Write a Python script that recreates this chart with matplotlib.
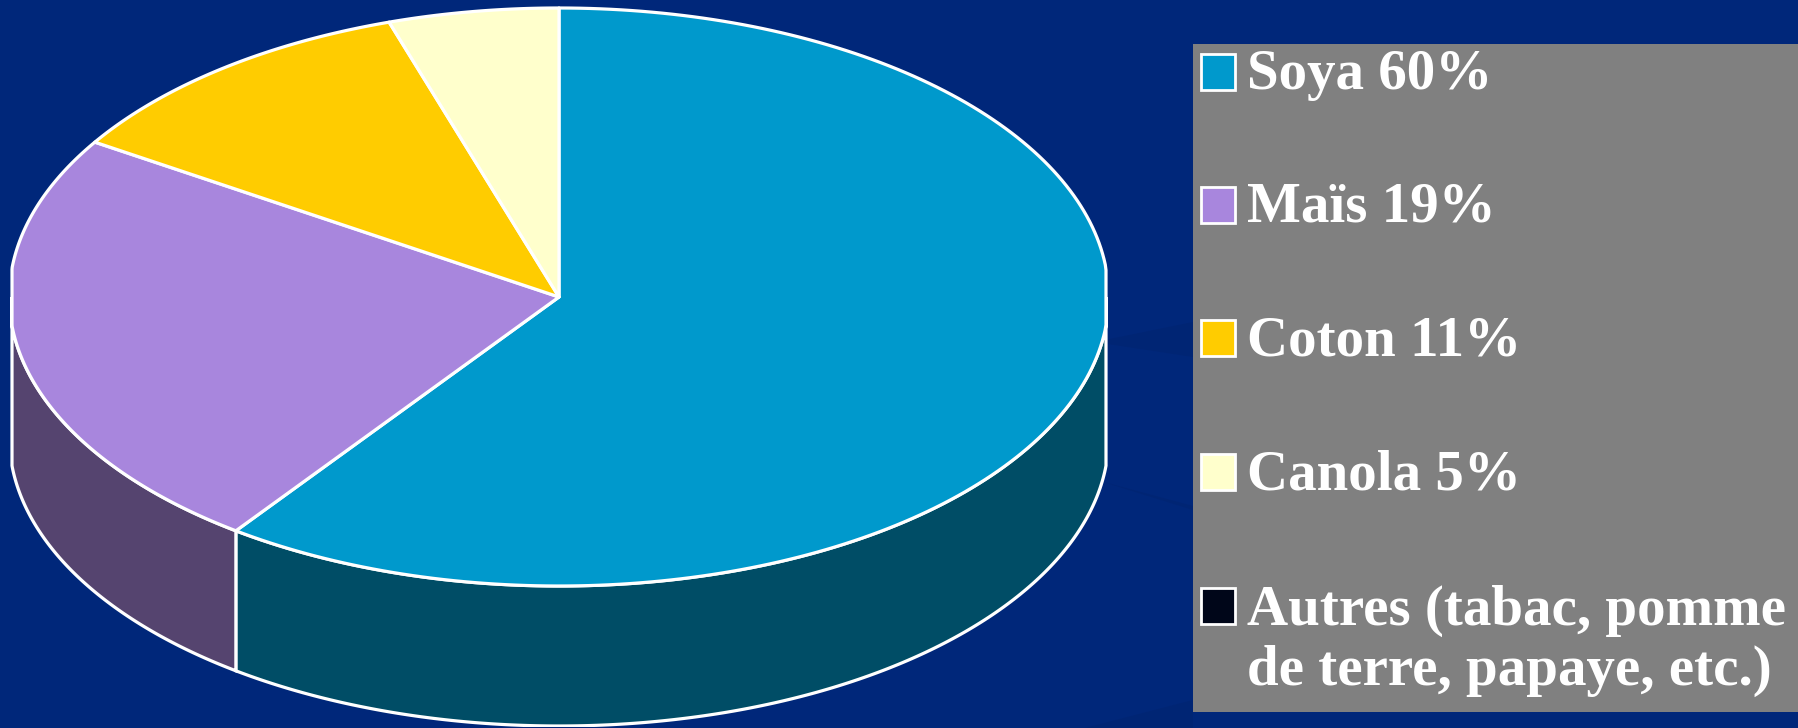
import numpy as np
import matplotlib
matplotlib.use("Agg")
import matplotlib.pyplot as plt
from matplotlib.patches import Rectangle, Polygon

# Slice shares as drawn on the pie (the Maïs slice is wider than its 19% text)
crops = ['Soya', 'Maïs', 'Coton', 'Canola']
shares = [60, 24, 11, 5]
top_colors = ['#0099CC', '#A886DD', '#FFCC00', '#FFFFCC']
side_colors = ['#004D66', '#55446F', '#806600', '#808066']

# Legend
legend_lines = ['Soya 60%', 'Maïs 19%', 'Coton 11%', 'Canola 5%',
                'Autres (tabac, pomme\nde terre, papaye, etc.)']
legend_colors = ['#0099CC', '#A886DD', '#FFCC00', '#FFFFCC', '#000619']

W, H = 1799, 728
navy = '#00277A'
streak = '#002574'

fig = plt.figure(figsize=(W / 100, H / 100), dpi=100, facecolor=navy)

# Pixel-based layer for the backdrop and the legend panel
bg = fig.add_axes([0, 0, 1, 1])
bg.set_xlim(0, W)
bg.set_ylim(H, 0)
bg.axis('off')

# faint streaks in the slide background
bg.add_patch(Polygon([(1095, 342), (1193, 322), (1193, 357)], facecolor=streak, edgecolor='none'))
bg.add_patch(Polygon([(1100, 481), (1193, 506), (1193, 510)], facecolor=streak, edgecolor='none'))
bg.add_patch(Polygon([(1085, 728), (1193, 700), (1193, 728)], facecolor=streak, edgecolor='none'))

bg.add_patch(Rectangle((1193, 44), W - 1193, 668, facecolor='#808080', edgecolor='none'))

row_y = [72, 205, 338, 472, 606]
for y, line, col in zip(row_y, legend_lines, legend_colors):
    bg.add_patch(Rectangle((1201.5, y - 18), 33.5, 35.5, facecolor=col, edgecolor='white', linewidth=2))
    text_y = y + 3 if '\n' not in line else y + 35
    bg.text(1247, text_y, line, family='Liberation Serif', weight='bold', fontsize=41,
            color='white', va='center', ha='left', linespacing=1.2)

# Pie axes: one data unit is one radius, the wall hangs below the rim
cx, cy, rx, ry = 559, 297, 547, 289
depth = 140 / ry
x0, x1 = -1.02, 1.02
y0, y1 = -1 - depth - 0.004, 1.02
left = cx + x0 * rx
right = cx + x1 * rx
top = cy - y1 * ry
bottom = cy - y0 * ry
ax = fig.add_axes([left / W, 1 - bottom / H, (right - left) / W, (bottom - top) / H])
ax.patch.set_alpha(0)
ax.set_xlim(x0, x1)
ax.set_ylim(y0, y1)
ax.axis('off')


def rim(a, b):
    # rim between two clockwise angles, flattened where it meets the sides
    t = np.radians(np.linspace(a, b, 200))
    return np.clip(1.005 * np.sin(t), -1, 1), np.cos(t)


lw = 2.3
edges = np.cumsum([0] + shares) * 3.6

# Side wall, only the front half of the rim shows
for i, col in enumerate(side_colors):
    a = max(edges[i], 90)
    b = min(edges[i + 1], 270)
    if a >= b:
        continue
    xs, ys = rim(a, b)
    ax.fill(np.r_[xs, xs[::-1]], np.r_[ys, ys[::-1] - depth],
            facecolor=col, edgecolor='white', linewidth=lw)

# Top face
for i, col in enumerate(top_colors):
    xs, ys = rim(edges[i], edges[i + 1])
    ax.fill(np.r_[0, xs], np.r_[0, ys], facecolor=col, edgecolor='white',
            linewidth=lw, joinstyle='round')

fig.savefig('out.png', dpi=100, facecolor=navy)
